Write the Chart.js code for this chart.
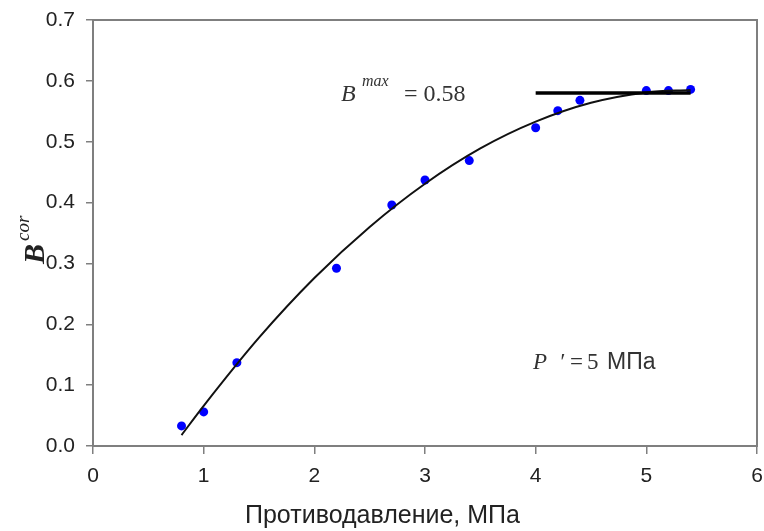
<!DOCTYPE html>
<html>
<head>
<meta charset="utf-8">
<script src="https://cdn.jsdelivr.net/npm/chart.js@4/dist/chart.umd.min.js"></script>
<style>
  html, body { margin: 0; padding: 0; background: #ffffff; }
  #wrap { width: 764px; height: 531px; }
</style>
</head>
<body>
<div id="wrap"><canvas id="chart" width="764" height="531"></canvas></div>
<script>
// Measured B^cor against back pressure
const pressure = [0.8, 1.0, 1.3, 2.2, 2.7, 3.0, 3.4, 4.0, 4.2, 4.4, 5.0, 5.2, 5.4];
const bcor     = [0.033, 0.056, 0.137, 0.292, 0.396, 0.437, 0.469, 0.523, 0.551, 0.568, 0.584, 0.584, 0.586];

// Trend curve through the measurements
const fitPressure = [0.8, 1.0, 1.5, 2.0, 2.5, 3.0, 3.5, 4.0, 4.5, 5.0, 5.4];
const fitB        = [0.018, 0.066, 0.178, 0.276, 0.360, 0.431, 0.489, 0.533, 0.564, 0.581, 0.585];

// Plateau level
const bMax = 0.58;
const bMaxRange = [4.0, 5.4];

// Axis ticks
const xTicks = [0, 1, 2, 3, 4, 5, 6];
const yTicks = [0.0, 0.1, 0.2, 0.3, 0.4, 0.5, 0.6, 0.7];

const AXIS_GRAY = '#7f7f7f';
const TEXT = '#222222';
const SANS = '"Liberation Sans", Arial, sans-serif';
const SERIF = '"Liberation Serif", "Times New Roman", serif';

const toPoints = (xs, ys) => xs.map((x, i) => ({ x, y: ys[i] }));

// Frame, axis titles and in-plot annotations
const decorations = {
  id: 'decorations',
  afterDatasetsDraw(chart) {
    const { ctx, chartArea: a } = chart;
    ctx.save();

    // box around the plot
    ctx.strokeStyle = AXIS_GRAY;
    ctx.lineWidth = 2;
    ctx.strokeRect(a.left, a.top, a.right - a.left, a.bottom - a.top);

    ctx.fillStyle = TEXT;
    ctx.textBaseline = 'alphabetic';
    ctx.textAlign = 'left';

    // x-axis title
    ctx.font = '25px ' + SANS;
    ctx.fillText('Противодавление, МПа', 245, 523);

    // y-axis title B^cor (rotated)
    ctx.save();
    ctx.translate(44, 264);
    ctx.rotate(-Math.PI / 2);
    ctx.font = 'italic bold 30px ' + SERIF;
    ctx.fillText('B', 0, 0);
    const bw = ctx.measureText('B').width;
    ctx.font = 'italic 19px ' + SERIF;
    ctx.fillText('cor', bw + 3, -15);
    ctx.restore();

    // B^max = 0.58
    ctx.fillStyle = '#333333';
    ctx.font = 'italic 24px ' + SERIF;
    ctx.fillText('B', 341, 101);
    ctx.font = 'italic 16px ' + SERIF;
    ctx.fillText('max', 362, 86);
    ctx.font = '24px ' + SERIF;
    ctx.fillText('= ' + bMax.toFixed(2), 404, 101);

    // P' = 5 MPa
    ctx.font = 'italic 23px ' + SERIF;
    ctx.fillText('P', 533, 369);
    ctx.fillText('\u2032', 559, 369);
    ctx.font = '23px ' + SERIF;
    ctx.fillText('=', 570, 369);
    ctx.fillText('5', 587, 369);
    ctx.font = '23px ' + SANS;
    ctx.fillText('МПа', 607, 369);

    ctx.restore();
  }
};

new Chart(document.getElementById('chart'), {
  type: 'scatter',
  data: {
    datasets: [
      {
        label: 'Bmax',
        data: toPoints(bMaxRange, bMaxRange.map(() => bMax)),
        showLine: true,
        borderColor: '#000000',
        borderWidth: 3.5,
        pointRadius: 0,
        order: 1
      },
      {
        label: 'trend',
        data: toPoints(fitPressure, fitB),
        showLine: true,
        borderColor: '#111111',
        borderWidth: 2,
        tension: 0.4,
        cubicInterpolationMode: 'monotone',
        pointRadius: 0,
        order: 2
      },
      {
        label: 'Bcor',
        data: toPoints(pressure, bcor),
        backgroundColor: '#0000ff',
        borderColor: '#0000ff',
        pointRadius: 4.5,
        pointBorderWidth: 0,
        order: 3
      }
    ]
  },
  options: {
    responsive: false,
    animation: false,
    devicePixelRatio: 1,
    layout: { padding: { left: 0, top: 20, right: 7, bottom: 0 } },
    plugins: {
      legend: { display: false },
      tooltip: { enabled: false }
    },
    scales: {
      x: {
        type: 'linear',
        min: xTicks[0],
        max: xTicks[xTicks.length - 1],
        afterBuildTicks: (s) => { s.ticks = xTicks.map(v => ({ value: v })); },
        afterFit: (s) => { s.height = 85; s.paddingLeft = 0; s.paddingRight = 0; },
        border: { display: false },
        grid: {
          drawOnChartArea: false,
          drawTicks: true,
          tickLength: 8,
          color: AXIS_GRAY,
          lineWidth: 1.5
        },
        ticks: {
          padding: 10,
          color: TEXT,
          font: { family: SANS, size: 21 },
          callback: (v) => String(v)
        }
      },
      y: {
        type: 'linear',
        min: yTicks[0],
        max: yTicks[yTicks.length - 1],
        afterBuildTicks: (s) => { s.ticks = yTicks.map(v => ({ value: v })); },
        afterFit: (s) => { s.width = 93; s.paddingTop = 0; s.paddingBottom = 0; },
        border: { display: false },
        grid: {
          drawOnChartArea: false,
          drawTicks: true,
          tickLength: 7,
          color: AXIS_GRAY,
          lineWidth: 1.5
        },
        ticks: {
          padding: 11,
          color: TEXT,
          font: { family: SANS, size: 21 },
          callback: (v) => Number(v).toFixed(1)
        }
      }
    }
  },
  plugins: [decorations]
});
</script>
</body>
</html>
